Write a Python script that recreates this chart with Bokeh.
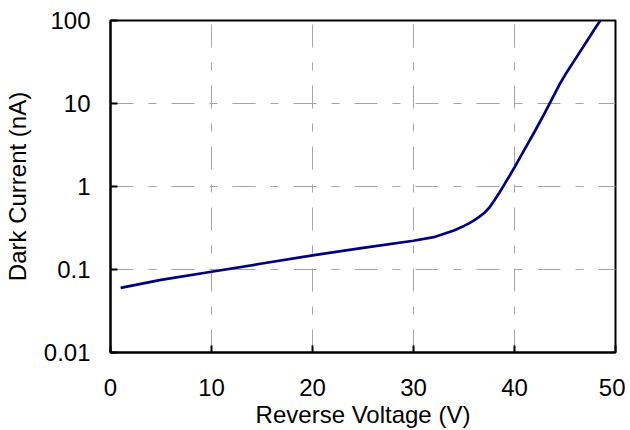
from bokeh.plotting import figure
from bokeh.models import FixedTicker, Range1d
from bokeh.embed import file_html
from bokeh.resources import INLINE

# Data
voltage = [1, 5, 10, 15, 20, 25, 30, 32, 34, 35, 35.5, 36, 36.5, 37, 37.5, 38, 38.5, 39, 39.5,
           40, 41, 42, 43, 43.5, 44, 44.5, 45, 46, 47, 48, 48.5]
dark_current = [0.060, 0.075, 0.094, 0.118, 0.148, 0.182, 0.222, 0.245, 0.295, 0.335, 0.36, 0.39, 0.43,
                0.48, 0.555, 0.68, 0.84, 1.06, 1.34, 1.7, 2.8, 4.6, 7.7, 10.1, 13.2, 17.3, 22, 34,
                52.5, 81, 100]

x_ticks = [0, 10, 20, 30, 40, 50]
y_ticks = [0.01, 0.1, 1, 10, 100]
y_tick_labels = ["0.01", "0.1", "1", "10", "100"]
x_title = "Reverse Voltage (V)"
y_title = "Dark Current (nA)"

FONT = "Liberation Sans"
TICK_SIZE = "24px"
LABEL_SIZE = "24px"

p = figure(frame_width=505, frame_height=332, y_axis_type="log",
           x_range=Range1d(0, 50), y_range=Range1d(0.01, 100),
           output_backend="svg", toolbar_location=None,
           min_border_left=106, min_border_right=10, min_border_top=20, min_border_bottom=83)

p.line(voltage, dark_current, line_color="#000080", line_width=2.7)

p.outline_line_color = "black"
p.outline_line_width = 2
p.outline_line_alpha = 1

for ax in (p.xaxis[0], p.yaxis[0]):
    ax.axis_line_color = "black"
    ax.axis_line_width = 2
    ax.major_tick_line_color = "black"
    ax.major_tick_line_width = 2
    ax.major_tick_in = 7
    ax.major_tick_out = 0
    ax.minor_tick_line_color = None
    ax.major_label_text_font = FONT
    ax.major_label_text_font_size = TICK_SIZE
    ax.major_label_text_color = "black"
    ax.axis_label_text_font = FONT
    ax.axis_label_text_font_size = LABEL_SIZE
    ax.axis_label_text_font_style = "normal"
    ax.axis_label_text_color = "black"

p.xaxis.ticker = FixedTicker(ticks=x_ticks)
p.yaxis.ticker = FixedTicker(ticks=y_ticks)
p.yaxis.major_label_overrides = {t: l for t, l in zip(y_ticks, y_tick_labels)}

p.xaxis.axis_label = x_title
p.yaxis.axis_label = y_title
p.xaxis.major_label_standoff = 26
p.yaxis.major_label_standoff = 20
p.xaxis.axis_label_standoff = 2
p.yaxis.axis_label_standoff = 10

for g in (p.xgrid[0], p.ygrid[0]):
    g.grid_line_color = "#a6a6a6"
    g.grid_line_width = 1
    g.grid_line_dash = "23 15 8 15"

p.background_fill_color = "white"
p.border_fill_color = "white"

open("out.html", "w").write(file_html(p, INLINE))
